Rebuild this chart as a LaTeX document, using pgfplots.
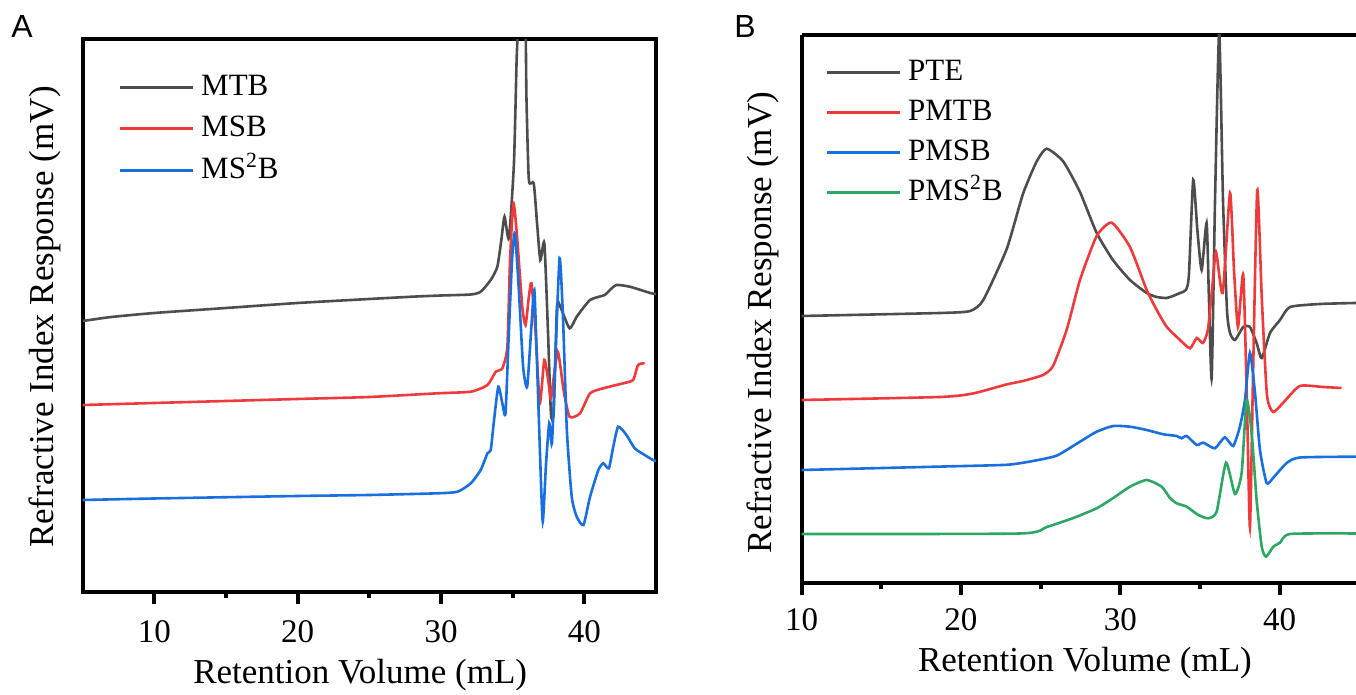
\documentclass[border=0pt]{standalone}
\usepackage{pgfplots}
\pgfplotsset{compat=1.18}
\usepackage{fontspec}
\setmainfont{Liberation Serif}
\newfontfamily\panelfont{Liberation Sans}
\definecolor{cgray}{RGB}{77,77,77}
\definecolor{cred}{RGB}{238,58,58}
\definecolor{cblue}{RGB}{26,111,222}
\definecolor{cgreen}{RGB}{46,167,100}
\pgfplotsset{
  chrom/.style={
    scale only axis,
    axis x line*=box,
    axis line style={line width=2pt},
    tick style={line width=2pt, black},
    tick align=outside,
    xtick pos=bottom,
    major tick length=6pt,
    minor tick length=3pt,
    minor x tick num=1,
    ytick=\empty,
    xtick={10,20,30,40},
    /pgf/number format/assume math mode=true,
    tick label style={font=\fontsize{16.5}{19}\selectfont},
    xticklabel style={anchor=center, yshift=-12pt},
    label style={font=\fontsize{17.5}{21}\selectfont},
    xlabel={Retention Volume (mL)},
    ylabel={Refractive Index Response (mV)},
    legend cell align=left,
    legend image code/.code={\draw[#1, line width=1.4pt] (0pt,0pt) -- (36.5pt,0pt);},
    every axis plot/.append style={line width=1.3pt, smooth, tension=0.35},
  }
}
\begin{document}
\begin{tikzpicture}
\useasboundingbox (0,0) rectangle (678pt,347.5pt);
\node[font=\panelfont\fontsize{16}{18}\selectfont] at (11pt,334pt) {A};
\node[font=\panelfont\fontsize{16}{18}\selectfont] at (372.5pt,334pt) {B};
% ---------------- Panel A ----------------
\begin{axis}[chrom,
  axis y line*=box,
  at={(41.35pt,51.65pt)}, anchor=south west,
  width=286.65pt, height=276.2pt,
  xmin=5, xmax=45, ymin=8.3, ymax=560.7,
  xticklabel style={yshift=-2pt},
  xlabel style={at={(axis description cs:0.484,0)}, anchor=center, yshift=-41.5pt},
  ylabel style={at={(axis description cs:-0.0658,0.497)}, anchor=center},
  legend style={at={(axis description cs:0.0616,0.939)}, anchor=north west,
    draw=none, fill=none, inner sep=0pt, row sep=6.75pt,
    nodes={inner sep=0pt, text height=11pt, text depth=3pt, font=\fontsize{15.5}{18}\selectfont},
    /tikz/every odd column/.append style={column sep=3.5pt}},
]
\addplot[cgray] coordinates {
(5,279)(7,283)(10,287)(15,292)(20,297)(25,301)(28,303.3)(30,304.5)(32.08,305.5)(32.77,308.3)
(33.47,320)(33.93,333.3)(34.21,360)(34.43,383.3)(34.74,361.7)(35.09,437)(35.27,537)
(35.36,570)(35.63,660)(35.90,570)(35.96,503.3)(36.13,420)(36.47,416.7)(36.70,377)
(36.93,340)(37.21,356.7)(37.46,270)(37.67,186.7)(37.86,187)(38.09,293.3)(38.32,293.3)
(38.97,271.7)(39.47,283.3)(40.40,300)(41.43,305)(41.78,310)(42.25,315)(43.17,313.3)
(44.67,306.7)(45,306)};
\addlegendentry{MTB}
\addplot[cred] coordinates {
(5,195)(10,197)(20,201)(25,203)(29.77,206.7)(32.08,208.3)(33.24,215)(33.82,228.3)
(34.28,231.7)(34.63,253.3)(34.81,337)(35.04,396.7)(35.27,370)(35.67,293.3)(35.90,275)
(36.13,303.3)(36.31,316.7)(36.59,270)(36.89,196.7)(37.21,240)(37.51,216.7)(37.67,202)
(38.14,248.3)(38.55,210)(38.97,183.3)(39.70,186.7)(40.40,206.7)(41.32,211.7)(42.71,216.7)
(43.40,220)(43.75,235)(44.21,236.7)};
\addlegendentry{MSB}
\addplot[cblue] coordinates {
(5,100)(10,101.5)(20,104)(25,105)(29.77,106.7)(31.16,108.3)(32.08,116.7)(32.77,130)
(33.24,146.7)(33.47,150)(33.70,180)(34.00,213.3)(34.28,196.7)(34.50,186.7)(34.74,270)
(34.97,343.3)(35.16,366.7)(35.43,310)(35.73,233.3)(36.01,213.3)(36.29,270)(36.51,310)
(36.70,236.7)(36.93,136.7)(37.10,78.3)(37.33,136.7)(37.55,176.7)(37.74,156.7)(37.97,236.7)
(38.27,341.7)(38.50,286.7)(38.78,170)(39.12,103.3)(39.47,83.3)(39.94,75)(40.40,103.3)
(40.98,130)(41.32,136.7)(41.71,131.7)(42.02,153.3)(42.36,173.3)(42.94,165)(43.51,151.7)
(44.21,145)(44.79,140)(45,139)};
\addlegendentry{MS\textsuperscript{2}B}
\end{axis}
% ---------------- Panel B ----------------
\begin{axis}[chrom,
  axis y line*=left,
  at={(400.85pt,55.85pt)}, anchor=south west,
  width=277.15pt, height=274.15pt,
  xmin=10, xmax=44.8, ymin=16.7, ymax=565,
  xlabel style={at={(axis description cs:0.511,0)}, anchor=center, yshift=-40pt},
  ylabel style={at={(axis description cs:-0.0698,0.475)}, anchor=center},
  legend style={at={(axis description cs:0.042,0.958)}, anchor=north west,
    draw=none, fill=none, inner sep=0pt, row sep=6pt,
    nodes={inner sep=0pt, text height=11pt, text depth=3pt, font=\fontsize{15.5}{18}\selectfont},
    /tikz/every odd column/.append style={column sep=3.5pt}},
]
\addplot[cgray] coordinates {
(10,284)(18.68,287)(20.57,289)(21.40,300)(22.87,351)(23.89,406)(24.75,438.5)(25.38,451.3)
(26.42,438.5)(27.47,408)(28.52,367)(29.54,340)(30.61,320)(31.66,307)(32.29,303)(32.91,302)
(33.31,304)(33.75,307)(34.12,310)(34.31,325)(34.58,420)(34.84,370)(35.11,330)(35.42,377)
(35.57,300)(35.74,222)(35.95,400)(36.21,568)(36.45,400)(36.70,290)(36.89,267)(37.20,260)
(37.72,273)(38.14,273)(38.56,257)(38.88,242)(39.40,267)(40.03,280)(40.66,293)(42.54,296)
(44.8,297)};
\addlegendentry{PTE}
\addplot[cred] coordinates {
(10,200)(18.68,203)(20.75,206.5)(22.87,215.6)(23.89,219)(25.15,225)(25.78,234)(26.64,270.4)
(27.47,320)(28.52,364)(29.46,377.3)(30.61,353)(31.66,310)(32.29,290)(32.91,273.3)(33.75,260)
(34.38,251.7)(34.80,262)(35.19,257)(35.50,270)(35.76,310)(36.01,348)(36.43,307)(36.89,407)
(37.14,330)(37.39,273)(37.72,325)(37.95,200)(38.14,73)(38.33,220)(38.60,410)(38.89,300)
(39.21,205)(39.60,188)(40.23,197.3)(41.27,214)(42.72,213)(43.89,212)};
\addlegendentry{PMTB}
\addplot[cblue] coordinates {
(10,130)(18.68,133.4)(22.87,135.2)(24.52,139)(26.01,144.4)(27.47,158.3)(28.52,168.3)
(29.56,174)(30.61,173.3)(31.66,170)(32.70,165.7)(33.54,164)(33.85,161.7)(34.17,164)
(34.80,155)(35.21,157.3)(35.94,151.7)(36.56,162.7)(37.09,154)(37.51,173.3)(37.83,200)
(38.14,247.3)(38.46,207)(38.77,150)(39.19,117)(39.59,122)(40.45,137)(41.28,142.5)(44.8,143.3)};
\addlegendentry{PMSB}
\addplot[cgreen] coordinates {
(10,66)(23.70,66.5)(25.38,73)(27.05,82)(28.52,91.7)(29.56,102)(30.61,113.3)(31.66,120)
(32.60,113.3)(33.12,102)(33.54,96.7)(34.17,93.3)(34.90,85)(35.52,81.7)(36.05,88.3)
(36.64,137.3)(37.20,106)(37.62,127)(37.93,200)(38.25,167)(38.56,100)(38.88,53.3)(39.15,43.3)
(39.61,53.3)(40.03,57.3)(40.66,66)(44.8,66.5)};
\addlegendentry{PMS\textsuperscript{2}B}
\end{axis}
\end{tikzpicture}
\end{document}
